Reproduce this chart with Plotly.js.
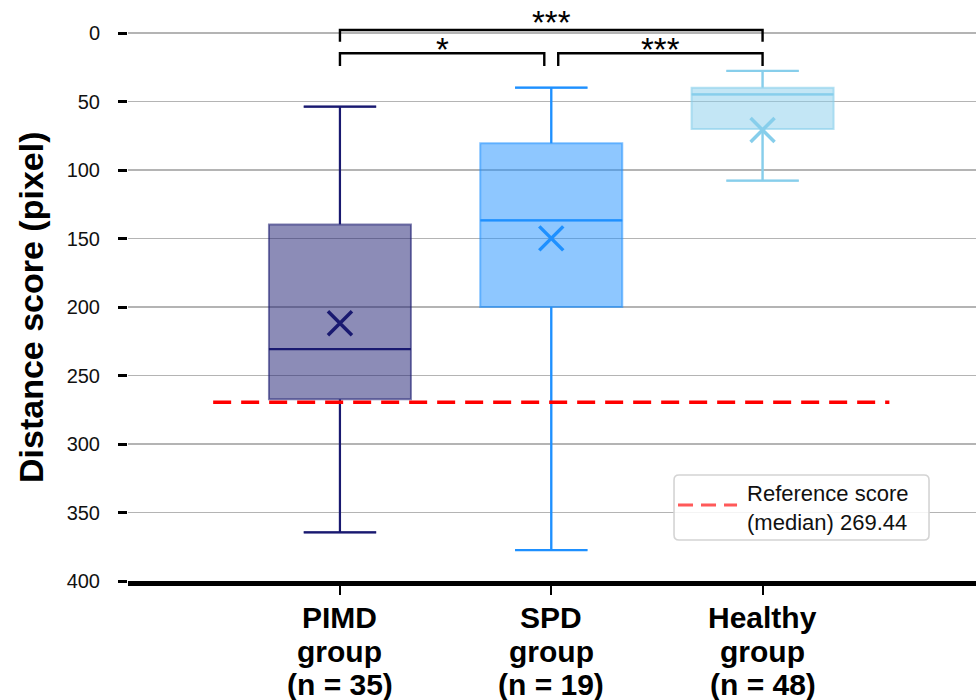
<!DOCTYPE html>
<html>
<head>
<meta charset="utf-8">
<script src="https://cdn.plot.ly/plotly-3.0.1.min.js"></script>
<style>
  html, body { margin: 0; padding: 0; background: #fff; }
  #chart { width: 976px; height: 700px; }
</style>
</head>
<body>
<div id="chart"></div>
<script>
// Groups and summary statistics of the distance score (pixel)
const groupNames = ['PIMD', 'SPD', 'Healthy'];
const groupSizes = [35, 19, 48];
const groupPos = [0, 1, 2];
const minVals = [53.8, 39.9, 27.7];
const q1Vals = [139.7, 80.5, 39.9];
const medianVals = [230.7, 136.7, 44.8];
const q3Vals = [267.4, 200.0, 70.1];
const maxVals = [364.5, 377.4, 107.8];
const meanVals = [211.9, 149.9, 70.8];

// Reference score (median) line
const refScore = 269.44;
const refSpan = [-0.6, 2.6];

// Significance brackets
const bracketFrom = [0, 0, 1.033];
const bracketTo = [2, 0.967, 2];
const bracketTop = [-2.2, 14.8, 14.8];
const bracketLeg = [6.3, 24.1, 24.1];
const bracketLabelY = [-10.7, 9.3, 9.3];
const bracketText = ['***', '*', '***'];

const lineColors = ['rgb(25,25,112)', 'rgb(30,144,255)', 'rgb(135,206,235)'];
const edgeColors = ['rgba(25,25,112,0.55)', 'rgba(30,144,255,0.55)', 'rgba(135,206,235,0.6)'];
const fillColors = ['rgba(25,25,112,0.5)', 'rgba(30,144,255,0.5)', 'rgba(135,206,235,0.5)'];
const FONT = 'Liberation Sans, Arial, Helvetica, sans-serif';

const BOX_W = 0.672;
const CAP_W = 0.51;

const traces = [];

groupPos.forEach((x, i) => {
  // box body (translucent edge)
  traces.push({
    type: 'box',
    x: [x],
    q1: [q1Vals[i]],
    median: [medianVals[i]],
    q3: [q3Vals[i]],
    lowerfence: [minVals[i]],
    upperfence: [maxVals[i]],
    width: BOX_W,
    whiskerwidth: CAP_W,
    fillcolor: fillColors[i],
    line: { color: edgeColors[i], width: 2 },
    boxpoints: false,
    showlegend: false,
    hoverinfo: 'skip'
  });
  // whiskers, caps and median in solid colour
  const hw = BOX_W / 2, cw = BOX_W * CAP_W / 2;
  traces.push({
    type: 'scatter',
    mode: 'lines',
    x: [x, x, null, x - cw, x + cw, null, x, x, null, x - cw, x + cw, null, x - hw, x + hw],
    y: [q1Vals[i], minVals[i], null, minVals[i], minVals[i], null,
        q3Vals[i], maxVals[i], null, maxVals[i], maxVals[i], null,
        medianVals[i], medianVals[i]],
    line: { color: lineColors[i], width: 2.2 },
    showlegend: false,
    hoverinfo: 'skip'
  });
  // mean marker
  traces.push({
    type: 'scatter',
    mode: 'markers',
    x: [x],
    y: [meanVals[i]],
    marker: { symbol: 'x-thin', size: 24, line: { color: lineColors[i], width: 3.5 } },
    showlegend: false,
    hoverinfo: 'skip'
  });
});

traces.push({
  type: 'scatter',
  mode: 'lines',
  x: refSpan,
  y: [refScore, refScore],
  line: { color: 'rgb(255,0,0)', width: 3.5, dash: '18px,10px' },
  showlegend: false,
  hoverinfo: 'skip'
});

// legend entry text for the reference line (its sample is drawn as a shape)
traces.push({
  type: 'scatter',
  mode: 'lines',
  x: [null],
  y: [null],
  line: { color: 'rgba(0,0,0,0)', width: 0 },
  name: 'Reference score<br>(median) ' + refScore.toFixed(2),
  hoverinfo: 'skip'
});

const annotations = [];
bracketFrom.forEach((x0, i) => {
  const x1 = bracketTo[i];
  traces.push({
    type: 'scatter',
    mode: 'lines',
    x: [x0, x0, x1, x1],
    y: [bracketLeg[i], bracketTop[i], bracketTop[i], bracketLeg[i]],
    line: { color: '#000', width: 2.4 },
    showlegend: false,
    hoverinfo: 'skip'
  });
  annotations.push({
    x: (x0 + x1) / 2,
    y: bracketLabelY[i],
    xref: 'x', yref: 'y',
    text: bracketText[i],
    showarrow: false,
    yanchor: 'middle',
    yshift: -4,
    font: { family: FONT, size: 33, color: '#000' }
  });
});

// category labels, one row per line
const labelRows = [-0.062, -0.1205, -0.179];
groupPos.forEach((x, i) => {
  const lines = [groupNames[i], 'group', '(n = ' + groupSizes[i] + ')'];
  lines.forEach((t, r) => {
    annotations.push({
      x: x, y: labelRows[r],
      xref: 'x', yref: 'paper',
      text: t,
      showarrow: false,
      xanchor: 'center', yanchor: 'middle',
      font: { family: FONT, size: 30, color: '#000', weight: 'bold' }
    });
  });
});

// y-axis title
annotations.push({
  x: -0.1144, y: 0.4716,
  xref: 'paper', yref: 'paper',
  text: 'Distance score (pixel)',
  textangle: -90,
  showarrow: false,
  xanchor: 'center', yanchor: 'middle',
  font: { family: FONT, size: 34, color: '#000', weight: 'bold' }
});

// legend frame (paper coordinates of the plot area)
const lgX0 = 0.6439, lgX1 = 0.9446, lgY0 = 0.0706, lgY1 = 0.1824;
const rx = 5 / 848, ry = 5 / 581;
const framePath =
  `M ${lgX0 + rx},${lgY0} L ${lgX1 - rx},${lgY0} Q ${lgX1},${lgY0} ${lgX1},${lgY0 + ry} ` +
  `L ${lgX1},${lgY1 - ry} Q ${lgX1},${lgY1} ${lgX1 - rx},${lgY1} ` +
  `L ${lgX0 + rx},${lgY1} Q ${lgX0},${lgY1} ${lgX0},${lgY1 - ry} ` +
  `L ${lgX0},${lgY0 + ry} Q ${lgX0},${lgY0} ${lgX0 + rx},${lgY0} Z`;

const shapes = [
  {
    type: 'path', xref: 'paper', yref: 'paper', layer: 'above',
    path: framePath,
    fillcolor: 'rgba(255,255,255,0.85)',
    line: { color: '#d4d4d4', width: 1.6 }
  },
  {
    type: 'line', xref: 'paper', yref: 'paper', layer: 'above',
    x0: 0.6486, x1: 0.7182, y0: 0.1308, y1: 0.1308,
    line: { color: 'rgba(255,60,60,0.85)', width: 3.2, dash: '15px,8px' }
  }
];

const layout = {
  width: 976,
  height: 700,
  margin: { l: 128, r: 0, t: 0, b: 119 },
  paper_bgcolor: '#fff',
  plot_bgcolor: '#fff',
  showlegend: true,
  legend: {
    x: 0.6439, xanchor: 'left',
    y: 0.1265, yanchor: 'middle',
    bgcolor: 'rgba(0,0,0,0)',
    borderwidth: 0,
    itemwidth: 63,
    font: { family: FONT, size: 22, color: '#111' }
  },
  xaxis: {
    range: [-1.003, 3.01],
    tickmode: 'array',
    tickvals: groupPos,
    showticklabels: false,
    ticks: 'outside',
    ticklen: 9,
    tickwidth: 2,
    tickcolor: '#000',
    showline: true,
    linecolor: '#000',
    linewidth: 5,
    showgrid: false,
    zeroline: false,
    fixedrange: true
  },
  yaxis: {
    range: [400, -24.1],
    tickvals: [0, 50, 100, 150, 200, 250, 300, 350, 400],
    ticks: 'outside',
    ticklen: 9,
    tickwidth: 3,
    tickcolor: '#000',
    ticklabelstandoff: 14,
    showline: false,
    showgrid: true,
    gridcolor: '#b4b4b4',
    gridwidth: 1.5,
    zeroline: false,
    tickfont: { family: FONT, size: 20, color: '#111' },
    automargin: false,
    fixedrange: true
  },
  shapes: shapes,
  annotations: annotations
};

Plotly.newPlot('chart', traces, layout, { displayModeBar: false, staticPlot: true });
</script>
</body>
</html>
